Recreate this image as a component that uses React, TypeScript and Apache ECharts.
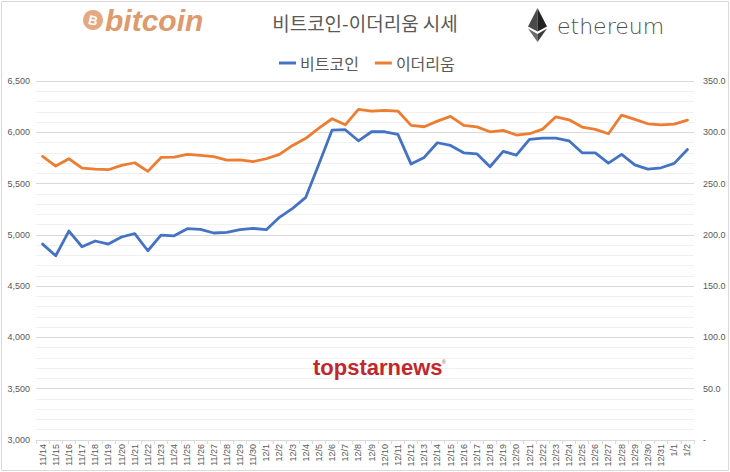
import React, { useEffect, useRef } from "react";
import * as echarts from "echarts";

const categories = [
  "11/14", "11/15", "11/16", "11/17", "11/18", "11/19", "11/20", "11/21", "11/22", "11/23",
  "11/24", "11/25", "11/26", "11/27", "11/28", "11/29", "11/30",
  "12/1", "12/2", "12/3", "12/4", "12/5", "12/6", "12/7", "12/8", "12/9", "12/10",
  "12/11", "12/12", "12/13", "12/14", "12/15", "12/16", "12/17", "12/18", "12/19", "12/20",
  "12/21", "12/22", "12/23", "12/24", "12/25", "12/26", "12/27", "12/28", "12/29", "12/30",
  "12/31", "1/1", "1/2",
];

// 비트코인 (left axis)
const btcValues = [
  4910, 4796, 5037, 4884, 4940, 4910, 4979, 5011, 4845, 4998,
  4991, 5060, 5053, 5018, 5024, 5050, 5063,
  5050, 5171, 5258, 5366, 5690, 6022, 6025, 5917, 6005, 6005,
  5980, 5690, 5755, 5898, 5872, 5800, 5790, 5664, 5814, 5778,
  5931, 5944, 5944, 5917, 5800, 5800, 5700, 5785, 5683, 5641,
  5654, 5697, 5833,
];

// 이더리움 (right axis)
const ethValues = [
  276.5, 267.1, 274.2, 265.1, 264.1, 263.5, 267.7, 270.3, 261.9, 275.5,
  275.8, 278.5, 277.5, 276.2, 272.9, 273.2, 271.5,
  274.2, 278.5, 287.2, 294.1, 304.1, 313.2, 307.3, 322.3, 320.7, 321.3,
  320.7, 306.7, 305.4, 310.9, 315.5, 306.7, 305.3, 300.5, 301.9, 297.3,
  298.6, 303.1, 315.1, 312.2, 305.1, 302.8, 298.6, 316.8, 312.6, 308.3,
  307.3, 308.0, 311.9,
];

const leftAxis = { min: 3000, max: 6500, interval: 500 };
const rightAxis = { min: 0, max: 350, interval: 50 };

const seriesNames = ["비트코인", "이더리움"];
const titleText = "비트코인-이더리움 시세";

export default function App() {
  const ref = useRef<HTMLDivElement>(null);

  useEffect(() => {
    if (!ref.current) return;
    const chart = echarts.init(ref.current, null, { renderer: "svg" });
    const gray = "#595959";
    chart.setOption({
      animation: false,
      backgroundColor: "#ffffff",
      textStyle: { fontFamily: "'Noto Sans CJK KR', 'Noto Sans', sans-serif" },
      legend: {
        left: 274,
        top: 50,
        itemWidth: 17,
        itemHeight: 3,
        itemGap: 16,
        icon: "rect",
        textStyle: { fontSize: 16, color: gray, fontFamily: "'Noto Sans CJK KR', sans-serif", padding: [0, 0, 0, -1] },
        data: seriesNames,
      },
      grid: { left: 36, right: 36, top: 81, bottom: 32, containLabel: false },
      xAxis: {
        type: "category",
        data: categories,
        boundaryGap: true,
        axisLine: { lineStyle: { color: "#d9d9d9" } },
        axisTick: { show: true, alignWithLabel: false, length: 4, lineStyle: { color: "#d9d9d9" } },
        axisLabel: {
          interval: 0,
          rotate: 90,
          fontSize: 9,
          color: gray,
          margin: 4,
          fontFamily: "'Liberation Sans', sans-serif",
        },
      },
      yAxis: [
        {
          type: "value",
          position: "left",
          min: leftAxis.min,
          max: leftAxis.max,
          interval: leftAxis.interval,
          splitNumber: 5,
          axisLine: { show: false },
          axisTick: { show: false },
          axisLabel: {
            fontSize: 9,
            color: gray,
            margin: 6,
            fontFamily: "'Liberation Sans', sans-serif",
            formatter: (v: number) => v.toLocaleString("en-US"),
          },
          splitLine: { show: true, lineStyle: { color: "#d9d9d9", width: 1 } },
          minorTick: { show: false, splitNumber: 5 },
          minorSplitLine: { show: true, lineStyle: { color: "#f0f0f0", width: 1 } },
        },
        {
          type: "value",
          position: "right",
          min: rightAxis.min,
          max: rightAxis.max,
          interval: rightAxis.interval,
          axisLine: { show: false },
          axisTick: { show: false },
          splitLine: { show: false },
          axisLabel: {
            fontSize: 9,
            color: gray,
            margin: 9,
            fontFamily: "'Liberation Sans', sans-serif",
            formatter: (v: number) => (v === 0 ? "-" : v.toFixed(1)),
          },
        },
      ],
      series: [
        {
          name: seriesNames[0],
          type: "line",
          yAxisIndex: 0,
          data: btcValues,
          symbol: "none",
          color: "#4472C4",
          lineStyle: { color: "#4472C4", width: 2.8, cap: "round", join: "round" },
          z: 3,
        },
        {
          name: seriesNames[1],
          type: "line",
          yAxisIndex: 1,
          data: ethValues,
          symbol: "none",
          color: "#ED7D31",
          lineStyle: { color: "#ED7D31", width: 2.8, cap: "round", join: "round" },
          z: 2,
        },
      ],
      graphic: [
        {
          type: "rect",
          shape: { x: 1.5, y: 1.5, width: 727, height: 469 },
          style: { fill: "none", stroke: "#d9d9d9", lineWidth: 1 },
          silent: true,
        },
        // title
        {
          type: "text",
          x: 365,
          y: 22,
          style: {
            text: titleText,
            fontSize: 19,
            fill: gray,
            align: "center",
            verticalAlign: "middle",
            fontFamily: "'Noto Sans CJK KR', sans-serif",
          },
        },
        // bitcoin logo
        {
          type: "circle",
          shape: { cx: 93, cy: 20, r: 10 },
          style: { fill: "#E4A982" },
        },
        {
          type: "text",
          x: 93,
          y: 20.5,
          rotation: -0.22,
          style: {
            text: "B",
            fontSize: 13,
            fontWeight: "bold",
            fill: "#ffffff",
            align: "center",
            verticalAlign: "middle",
            fontFamily: "'Liberation Sans', sans-serif",
          },
        },
        {
          type: "text",
          x: 105,
          y: 20,
          style: {
            text: "bitcoin",
            fontSize: 30,
            fontWeight: "bold",
            fontStyle: "italic",
            fill: "#DE9A6C",
            align: "left",
            verticalAlign: "middle",
            fontFamily: "'Liberation Sans', sans-serif",
          },
        },
        // ethereum logo
        {
          type: "polygon",
          shape: { points: [[537.5, 8], [528, 26.5], [537.5, 31.5]] },
          style: { fill: "#4a4a4a" },
        },
        {
          type: "polygon",
          shape: { points: [[537.5, 8], [547, 26.5], [537.5, 31.5]] },
          style: { fill: "#222222" },
        },
        {
          type: "polygon",
          shape: { points: [[528, 28.5], [537.5, 34], [537.5, 42]] },
          style: { fill: "#6a6a6a" },
        },
        {
          type: "polygon",
          shape: { points: [[547, 28.5], [537.5, 34], [537.5, 42]] },
          style: { fill: "#3c3c3c" },
        },
        {
          type: "text",
          x: 557,
          y: 26,
          style: {
            text: "ethereum",
            fontSize: 22,
            fill: "#4d4d4d",
            align: "left",
            verticalAlign: "middle",
            fontFamily: "'DejaVu Sans', sans-serif",
            fontWeight: 300,
          },
        },
        // watermark
        {
          type: "text",
          x: 313,
          y: 367,
          style: {
            text: "topstarnews",
            fontSize: 22,
            fontWeight: "bold",
            fill: "#C1272D",
            align: "left",
            verticalAlign: "middle",
            fontFamily: "'Liberation Sans', sans-serif",
          },
          z: 10,
        },
        {
          type: "text",
          x: 442,
          y: 362,
          style: {
            text: "®",
            fontSize: 5,
            fill: "#C1272D",
            align: "left",
            verticalAlign: "middle",
            fontFamily: "'Liberation Sans', sans-serif",
          },
          z: 10,
        },
      ],
    });
    return () => chart.dispose();
  }, []);

  return (
    <div
      ref={ref}
      style={{ position: "fixed", left: 0, top: 0, width: 730, height: 472 }}
    />
  );
}
